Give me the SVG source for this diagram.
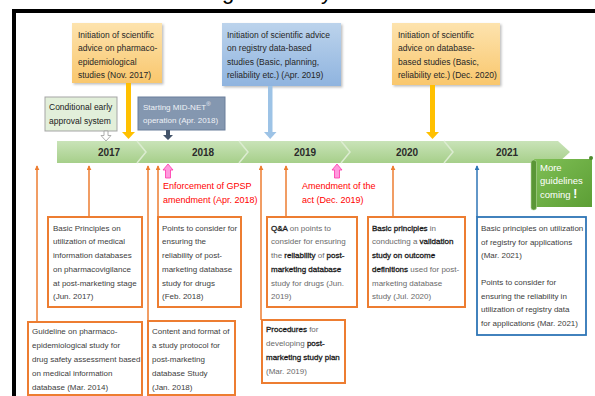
<svg xmlns="http://www.w3.org/2000/svg" width="595" height="396" viewBox="0 0 595 396">
<defs>
<linearGradient id="gOr" x1="0" y1="0" x2="0" y2="1"><stop offset="0" stop-color="#fde3ae"/><stop offset="1" stop-color="#f9c76d"/></linearGradient>
<linearGradient id="gBl" x1="0" y1="0" x2="0" y2="1"><stop offset="0" stop-color="#bcd3ec"/><stop offset="1" stop-color="#8fb4df"/></linearGradient>
<linearGradient id="gBar" x1="0" y1="0" x2="0" y2="1"><stop offset="0" stop-color="#c9e3b8"/><stop offset="1" stop-color="#a6cf8a"/></linearGradient>
<linearGradient id="gGr" x1="0" y1="0" x2="1" y2="1"><stop offset="0" stop-color="#7fbf55"/><stop offset="1" stop-color="#5c9e35"/></linearGradient>
<filter id="sh" x="-10%" y="-10%" width="130%" height="130%"><feDropShadow dx="1.5" dy="1.5" stdDeviation="1" flood-color="#000" flood-opacity="0.25"/></filter>
<marker id="mO" viewBox="0 0 6 6" refX="5" refY="3" markerWidth="5" markerHeight="5" orient="auto" markerUnits="userSpaceOnUse"><path d="M0,0 L6,3 L0,6 Z" fill="#ed7d31"/></marker>
<marker id="mB" viewBox="0 0 6 6" refX="5" refY="3" markerWidth="5" markerHeight="5" orient="auto" markerUnits="userSpaceOnUse"><path d="M0,0 L6,3 L0,6 Z" fill="#2e75b6"/></marker>
</defs>
<style>
.t{font-family:"Liberation Sans",Arial,sans-serif;}
.top{font-size:8.5px;fill:#262626;}
.low{font-size:8px;fill:#404040;}
.lg{font-size:8px;fill:#6a6a6a;}
.b{fill:#1a1a1a;stroke:#1a1a1a;stroke-width:0.3px;}
.yr{font-size:10px;font-weight:bold;fill:#2b2b2b;text-anchor:middle;}
.red{font-size:9px;fill:#ff0000;}
.ob{fill:#fff;stroke:#ed7d31;stroke-width:2;}
.con{stroke:#ed7d31;stroke-width:1.5;fill:none;}
</style>
<rect x="0" y="0" width="595" height="396" fill="#fff"/>
<text class="t" x="222" y="-1" font-size="22" fill="#000">g</text>
<text class="t" x="321" y="-1" font-size="22" fill="#000">y</text>
<g id="frame" fill="none" stroke="#000" stroke-width="4">
<path d="M14,396 L14,11 L595,11"/>
</g>

<g id="timeline">
<polygon points="57,141 558,141 570,152 558,163 57,163" fill="url(#gBar)"/>
<g fill="none" stroke="#dcecd1" stroke-width="1.5">
<polyline points="137,141 146,152 137,163"/>
<polyline points="239,141 248,152 239,163"/>
<polyline points="341,141 350,152 341,163"/>
<polyline points="444,141 453,152 444,163"/>
</g>
<text class="t yr" x="109" y="156">2017</text>
<text class="t yr" x="203" y="156">2018</text>
<text class="t yr" x="305" y="156">2019</text>
<text class="t yr" x="407" y="156">2020</text>
<text class="t yr" x="507" y="156">2021</text>
</g>

<g id="advice2017">
<rect x="72" y="23" width="90" height="60" fill="url(#gOr)" filter="url(#sh)"/>
<text class="t top"><tspan x="78" y="38">Initiation of scientific</tspan><tspan x="78" y="51">advice on pharmaco-</tspan><tspan x="78" y="65">epidemiological</tspan><tspan x="78" y="78">studies (Nov. 2017)</tspan></text>
</g>
<g id="advice2019">
<rect x="222" y="23" width="119" height="63" fill="url(#gBl)" filter="url(#sh)"/>
<text class="t top"><tspan x="227" y="38">Initiation of scientific advice</tspan><tspan x="227" y="51">on registry data-based</tspan><tspan x="227" y="65">studies (Basic, planning,</tspan><tspan x="227" y="78">reliability etc.) (Apr. 2019)</tspan></text>
</g>
<g id="advice2020">
<rect x="392" y="23" width="108" height="62" fill="url(#gOr)" filter="url(#sh)"/>
<text class="t top"><tspan x="398" y="38">Initiation of scientific</tspan><tspan x="398" y="51">advice on database-</tspan><tspan x="398" y="65">based studies (Basic,</tspan><tspan x="398" y="78">reliability etc.) (Dec. 2020)</tspan></text>
</g>
<g id="conditional">
<rect x="45" y="97" width="72" height="34" fill="#e2efda" stroke="#a5a5a5" stroke-width="1"/>
<text class="t" font-size="8.5" fill="#1a1a1a"><tspan x="49" y="110">Conditional early</tspan><tspan x="49" y="124">approval system</tspan></text>
</g>
<g id="midnet">
<rect x="138" y="97" width="87" height="33" fill="#8497b0" stroke="#6b7f9b" stroke-width="1"/>
<text class="t" font-size="8" fill="#eef1f6"><tspan x="143" y="110">Starting  MID-NET</tspan><tspan font-size="6" dy="-4">®</tspan><tspan x="143" y="123">operation (Apr. 2018)</tspan></text>
</g>

<g id="topArrows">
<rect x="126" y="83" width="5" height="50" fill="#ffc000"/>
<polygon points="122,132 135,132 128.5,139" fill="#ffc000"/>
<rect x="268" y="86" width="4.5" height="47" fill="#9dc3e6"/>
<polygon points="264,132 276.5,132 270.2,139" fill="#9dc3e6"/>
<rect x="430" y="85" width="5" height="48" fill="#ffc000"/>
<polygon points="426,132 439,132 432.5,139" fill="#ffc000"/>
<polygon points="104,131 108,131 108,135.5 111,135.5 106,141 101,135.5 104,135.5" fill="#fff" stroke="#9a9a9a" stroke-width="0.8"/>
<polygon points="166,130 170,130 170,135 173,135 168,140 163,135 166,135" fill="#44546a"/>
</g>

<g id="events">
<polygon points="168,164 173,170 170.5,170 170.5,178 165.5,178 165.5,170 163,170" fill="#ff99dd" stroke="#ff33aa" stroke-width="0.8"/>
<text class="t red"><tspan x="163" y="189">Enforcement of GPSP</tspan><tspan x="163" y="203">amendment (Apr. 2018)</tspan></text>
<polygon points="337,164 342,170 339.5,170 339.5,178 334.5,178 334.5,170 332,170" fill="#ff99dd" stroke="#ff33aa" stroke-width="0.8"/>
<text class="t red"><tspan x="302" y="189">Amendment of the</tspan><tspan x="302" y="203">act (Dec. 2019)</tspan></text>
</g>

<g id="more">
<rect x="534" y="159" width="58" height="48" fill="url(#gGr)"/>
<rect x="531" y="160" width="5.5" height="50" rx="2.5" fill="#5a9636" stroke="#b5d99c" stroke-width="0.6"/>
<circle cx="591" cy="158" r="2" fill="#4e8a2e"/>
<text class="t" font-size="9.5" fill="#fff"><tspan x="540" y="171">More</tspan><tspan x="540" y="184">guidelines</tspan><tspan x="540" y="198">coming </tspan><tspan font-size="12" font-weight="bold">!</tspan></text>
</g>

<g id="connectors">
<line class="con" x1="37" y1="322" x2="37" y2="166" marker-end="url(#mO)"/>
<line class="con" x1="89" y1="217" x2="89" y2="166" marker-end="url(#mO)"/>
<line class="con" x1="148" y1="321" x2="148" y2="166" marker-end="url(#mO)"/>
<line class="con" x1="158" y1="217" x2="158" y2="166" marker-end="url(#mO)"/>
<line class="con" x1="261" y1="320" x2="261" y2="166" marker-end="url(#mO)"/>
<line class="con" x1="286" y1="217" x2="286" y2="166" marker-end="url(#mO)"/>
<line class="con" x1="393" y1="217" x2="393" y2="166" marker-end="url(#mO)"/>
<line x1="477" y1="217" x2="477" y2="166" stroke="#2e75b6" stroke-width="1.5" marker-end="url(#mB)"/>
</g>

<g id="boxA">
<rect class="ob" x="48" y="217" width="94" height="90"/>
<text class="t low"><tspan x="53" y="230.5">Basic Principles on</tspan><tspan x="53" y="244.3">utilization of medical</tspan><tspan x="53" y="258">information databases</tspan><tspan x="53" y="271.8">on pharmacovigilance</tspan><tspan x="53" y="285.5">at post-marketing stage</tspan><tspan x="53" y="299.3">(Jun. 2017)</tspan></text>
</g>
<g id="boxB">
<rect class="ob" x="28" y="322" width="114" height="73"/>
<text class="t low"><tspan x="32" y="334">Guideline on pharmaco-</tspan><tspan x="32" y="348">epidemiological study for</tspan><tspan x="32" y="362">drug safety assessment based</tspan><tspan x="32" y="376">on medical information</tspan><tspan x="32" y="389.5">database (Mar. 2014)</tspan></text>
</g>
<g id="boxC">
<rect class="ob" x="158" y="217" width="83" height="90"/>
<text class="t low"><tspan x="162" y="230.5">Points to consider for</tspan><tspan x="162" y="244.3">ensuring the</tspan><tspan x="162" y="258">reliability of post-</tspan><tspan x="162" y="271.8">marketing database</tspan><tspan x="162" y="285.5">study for drugs</tspan><tspan x="162" y="299.3">(Feb. 2018)</tspan></text>
</g>
<g id="boxD">
<rect class="ob" x="148" y="321" width="87" height="74"/>
<text class="t low"><tspan x="152" y="334">Content and format of</tspan><tspan x="152" y="348">a study protocol for</tspan><tspan x="152" y="362">post-marketing</tspan><tspan x="152" y="376">database Study</tspan><tspan x="152" y="389.5">(Jan. 2018)</tspan></text>
</g>
<g id="boxE">
<rect class="ob" x="267" y="217" width="90" height="90"/>
<text class="t lg"><tspan x="271" y="230.5"><tspan class="b">Q&amp;A</tspan> on points to</tspan><tspan x="271" y="244.3">consider for ensuring</tspan><tspan x="271" y="258">the <tspan class="b">reliability</tspan> of <tspan class="b">post-</tspan></tspan><tspan x="271" y="271.8" class="b">marketing database</tspan><tspan x="271" y="285.5">study for drugs  (Jun.</tspan><tspan x="271" y="299.3">2019)</tspan></text>
</g>
<g id="boxF">
<rect class="ob" x="262" y="320" width="83" height="63"/>
<text class="t lg"><tspan x="266" y="332"><tspan class="b">Procedures</tspan> for</tspan><tspan x="266" y="346">developing <tspan class="b">post-</tspan></tspan><tspan x="266" y="360" class="b">marketing study plan</tspan><tspan x="266" y="374">(Mar. 2019)</tspan></text>
</g>
<g id="boxG">
<rect class="ob" x="368" y="217" width="97" height="90"/>
<text class="t lg"><tspan x="372" y="230.5"><tspan class="b">Basic principles</tspan> in</tspan><tspan x="372" y="244.3">conducting a <tspan class="b">validation</tspan></tspan><tspan x="372" y="258" class="b">study on outcome</tspan><tspan x="372" y="271.8"><tspan class="b">definitions</tspan> used for post-</tspan><tspan x="372" y="285.5">marketing database</tspan><tspan x="372" y="299.3">study (Jul. 2020)</tspan></text>
</g>
<g id="boxH">
<rect x="477" y="217" width="109" height="118" fill="#fff" stroke="#2e75b6" stroke-width="1.8"/>
<text class="t low"><tspan x="481" y="231">Basic principles on utilization</tspan><tspan x="481" y="244.5">of registry for applications</tspan><tspan x="481" y="258">(Mar. 2021)</tspan><tspan x="481" y="285">Points to consider for</tspan><tspan x="481" y="298.5">ensuring the reliability in</tspan><tspan x="481" y="312">utilization of registry data</tspan><tspan x="481" y="325.5">for applications (Mar. 2021)</tspan></text>
</g>
</svg>
